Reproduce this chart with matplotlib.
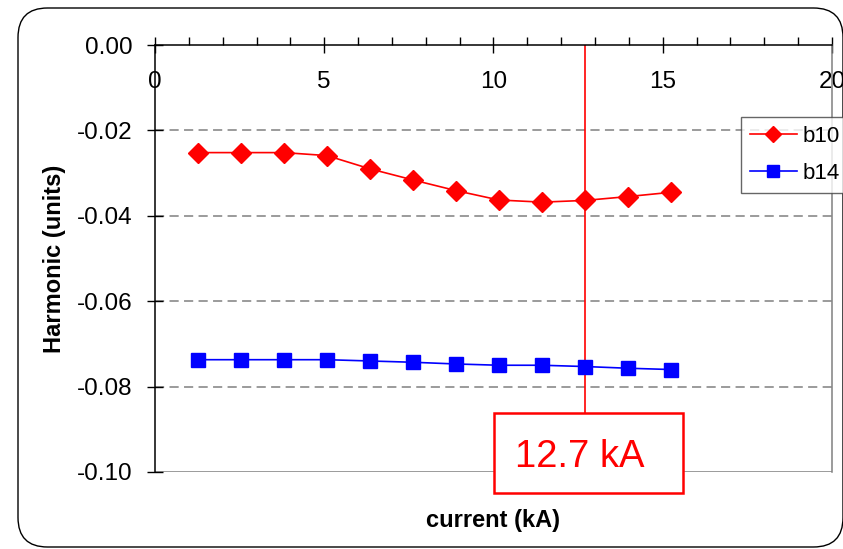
import matplotlib
matplotlib.use("Agg")
import matplotlib.pyplot as plt
from matplotlib.patches import FancyBboxPatch, Rectangle

plt.rcParams['font.family'] = ['Liberation Sans', 'DejaVu Sans']

current = [1.27, 2.54, 3.81, 5.08, 6.35, 7.62, 8.89, 10.16, 11.43, 12.70, 13.97, 15.24]
b10 = [-0.0252, -0.0252, -0.0252, -0.0259, -0.0290, -0.0316, -0.0341, -0.0363, -0.0368, -0.0364, -0.0355, -0.0345]
b14 = [-0.0737, -0.0737, -0.0737, -0.0737, -0.0740, -0.0743, -0.0747, -0.0750, -0.0750, -0.0753, -0.0757, -0.0760]
marker_current = 12.7
marker_label = "12.7 kA"
xticks = [0, 5, 10, 15, 20]
yticks = [0.00, -0.02, -0.04, -0.06, -0.08, -0.10]

W, H = 843, 549
fig = plt.figure(figsize=(W / 100, H / 100), dpi=100)

# outer rounded frame (pixel coords from top-left converted)
frame = FancyBboxPatch((18 / W, 1 - 547 / H), (843 - 18) / W, (547 - 8) / H,
                       boxstyle="round,pad=0,rounding_size=0.035",
                       transform=fig.transFigure, fill=False, edgecolor='black',
                       linewidth=1.0, mutation_aspect=W / H)
fig.patches.append(frame)

ax = fig.add_axes([155 / W, 1 - 472 / H, (832 - 155) / W, (472 - 45) / H])
ax.set_xlim(0, 20)
ax.set_ylim(-0.10, 0.0)

# grid lines
for y in yticks[1:-1]:
    ax.axhline(y, color='#808080', lw=1.1, ls=(0, (6, 3.5)), zorder=1)
ax.axhline(-0.10, color='#808080', lw=1.1, zorder=1)

# vertical marker
ax.axvline(marker_current, color='red', lw=1.2, zorder=2)

ax.plot(current, b10, color='red', marker='D', markersize=10, lw=1.2,
        label='b10', zorder=4, clip_on=False)
ax.plot(current, b14, color='blue', marker='s', markersize=10.5, lw=1.2,
        label='b14', zorder=4, clip_on=False)

# spines
ax.spines['top'].set_visible(False)
ax.spines['bottom'].set_position(('data', 0.0))
ax.spines['bottom'].set_color('black')
ax.spines['right'].set_color('#808080')
ax.spines['left'].set_color('black')
for s in ax.spines.values():
    s.set_linewidth(1.1)

ax.set_xticks(xticks)
ax.set_xticks(range(0, 21), minor=True)
ax.tick_params(axis='x', which='major', direction='inout', length=12, width=1.0,
               labelsize=17.5, pad=13)
ax.tick_params(axis='x', which='minor', direction='in', length=6, width=1.0)
ax.set_yticks(yticks)
ax.set_yticklabels([f"{v:.2f}" for v in yticks])
ax.tick_params(axis='y', which='major', direction='inout', length=12, width=1.0,
               labelsize=17.5, pad=10)

ax.set_xlabel('current (kA)', fontsize=17, fontweight='bold')
ax.xaxis.set_label_coords(0.5, -(509 - 472) / (472 - 45))
ax.set_ylabel('Harmonic (units)', fontsize=17, fontweight='bold')
ax.yaxis.set_label_coords(-(155 - 66) / (832 - 155), 0.5)

# label box
bx0, by0, bx1, by1 = 494, 413, 683, 493
ax_left, ax_top, ax_w, ax_h = 155, 45, 832 - 155, 472 - 45
rect = Rectangle(((bx0 - ax_left) / ax_w, 1 - (by1 - ax_top) / ax_h),
                 (bx1 - bx0) / ax_w, (by1 - by0) / ax_h,
                 transform=ax.transAxes, facecolor='white', edgecolor='red',
                 linewidth=1.8, clip_on=False, zorder=5)
ax.add_patch(rect)
ax.text((580 - ax_left) / ax_w, 1 - (457 - ax_top) / ax_h, marker_label,
        transform=ax.transAxes, color='red', fontsize=27.5, ha='center',
        va='center', zorder=6, clip_on=False)

leg = fig.legend(loc='upper left', bbox_to_anchor=(741 / W, 1 - 117 / H),
                 fontsize=16, frameon=True, fancybox=False, edgecolor='#404040',
                 handlelength=2.1, handletextpad=0.25, labelspacing=0.73,
                 borderpad=0.4, borderaxespad=0, markerscale=0.85)
leg.get_frame().set_linewidth(1.0)

fig.savefig('out.png', dpi=100)
